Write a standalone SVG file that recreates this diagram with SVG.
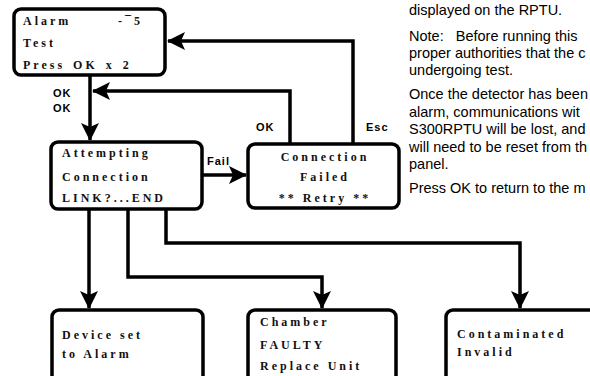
<svg xmlns="http://www.w3.org/2000/svg" width="590" height="376" viewBox="0 0 590 376">
  <style>
    .box { fill: #fff; stroke: #000; stroke-width: 3.5; }
    .lcd { font-family: "Liberation Serif", "Times New Roman", serif; font-weight: bold; font-size: 12px; letter-spacing: 3px; fill: #111; }
    .key { font-family: "Liberation Sans", Arial, sans-serif; font-weight: bold; font-size: 11px; letter-spacing: 1px; fill: #000; }
    .wire { fill: none; stroke: #000; stroke-width: 3.5; stroke-linejoin: miter; }
    .note { font-family: "Liberation Sans", Arial, sans-serif; font-size: 14.5px; fill: #000; }
  </style>
  <defs>
    <marker id="head" viewBox="0 0 18 18" refX="17" refY="9" markerWidth="18" markerHeight="18" markerUnits="userSpaceOnUse" orient="auto">
      <path d="M0,0 L18,9 L0,18 L4,9 Z" fill="#000"/>
    </marker>
  </defs>

  <rect width="590" height="376" fill="#fff"/>

  <!-- connectors -->
  <g id="connectors">
    <path class="wire" d="M90,76 V140" marker-end="url(#head)"/>
    <path class="wire" d="M290,143 V91 H93" marker-end="url(#head)"/>
    <path class="wire" d="M353,143 V41 H168" marker-end="url(#head)"/>
    <path class="wire" d="M203,175 H246" marker-end="url(#head)"/>
    <path class="wire" d="M89,210 V308" marker-end="url(#head)"/>
    <path class="wire" d="M128,210 V277 H322 V308" marker-end="url(#head)"/>
    <path class="wire" d="M166,210 V243 H520 V308" marker-end="url(#head)"/>
  </g>

  <!-- key labels on the connectors -->
  <g id="labels">
    <text class="key" x="53" y="97">OK</text>
    <text class="key" x="53" y="112">OK</text>
    <text class="key" x="256" y="131">OK</text>
    <text class="key" x="366" y="131">Esc</text>
    <text class="key" x="207" y="165">Fail</text>
  </g>

  <g id="alarm-test">
    <rect class="box" x="14" y="9" width="151" height="66" rx="7"/>
    <text class="lcd" x="23" y="25">Alarm</text>
    <text class="lcd" x="118" y="25">-¯5</text>
    <text class="lcd" x="23" y="47">Test</text>
    <text class="lcd" x="23" y="69" word-spacing="2">Press OK x 2</text>
  </g>

  <g id="attempting">
    <rect class="box" x="51" y="142" width="151" height="67" rx="7"/>
    <text class="lcd" x="62" y="157">Attempting</text>
    <text class="lcd" x="62" y="181">Connection</text>
    <text class="lcd" x="62" y="202">LINK?...END</text>
  </g>

  <g id="connection-failed">
    <rect class="box" x="248" y="144" width="151" height="64" rx="7"/>
    <text class="lcd" x="325" y="161" text-anchor="middle">Connection</text>
    <text class="lcd" x="325" y="181" text-anchor="middle">Failed</text>
    <text class="lcd" x="325" y="202" text-anchor="middle">** Retry **</text>
  </g>

  <g id="device-alarm">
    <rect class="box" x="52" y="310" width="151" height="80" rx="7"/>
    <text class="lcd" x="62" y="339">Device set</text>
    <text class="lcd" x="62" y="358">to Alarm</text>
  </g>

  <g id="chamber-faulty">
    <rect class="box" x="248" y="310" width="148" height="80" rx="7"/>
    <text class="lcd" x="260" y="326">Chamber</text>
    <text class="lcd" x="260" y="349">FAULTY</text>
    <text class="lcd" x="260" y="370">Replace Unit</text>
  </g>

  <g id="contaminated">
    <rect class="box" x="446" y="310" width="160" height="80" rx="7"/>
    <text class="lcd" x="457" y="338">Contaminated</text>
    <text class="lcd" x="457" y="356">Invalid</text>
  </g>

  <!-- explanatory text column -->
  <g id="notes" class="note">
    <text x="409" y="15">displayed on the RPTU.</text>
    <text x="409" y="41" xml:space="preserve">Note:   Before running this</text>
    <text x="409" y="58">proper authorities that the c</text>
    <text x="409" y="75">undergoing test.</text>
    <text x="409" y="99">Once the detector has been</text>
    <text x="409" y="117">alarm, communications wit</text>
    <text x="409" y="134">S300RPTU will be lost, and</text>
    <text x="409" y="152">will need to be reset from th</text>
    <text x="409" y="169">panel.</text>
    <text x="409" y="193">Press OK to return to the m</text>
  </g>
</svg>
